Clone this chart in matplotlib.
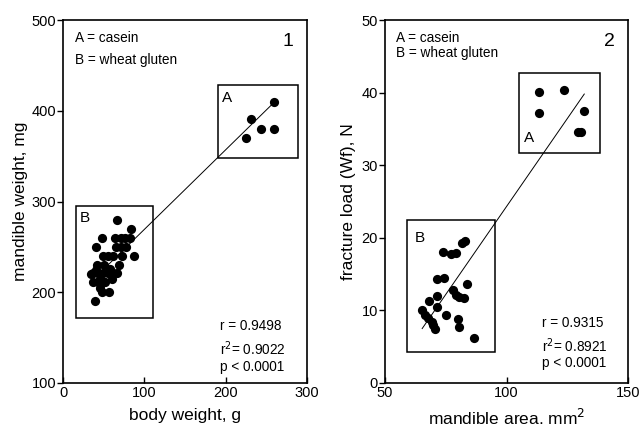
import matplotlib
matplotlib.use("Agg")
import matplotlib.pyplot as plt
from matplotlib.patches import Rectangle

plt.rcParams['font.family'] = ['Liberation Sans', 'DejaVu Sans']

# Panel 1: body weight (g) vs mandible weight (mg)
p1_casein_x = [259, 231, 243, 259, 225]
p1_casein_y = [410, 391, 380, 380, 370]
p1_gluten_x = [67, 83, 48, 64, 71, 82, 41, 65, 71, 78, 49, 55, 72, 87,
               42, 50, 69, 37, 43, 49, 55, 61, 66, 37, 43, 52, 48, 57, 39,
               45, 60, 40, 46, 34, 58, 62, 76]
p1_gluten_y = [280, 270, 260, 260, 260, 260, 250, 250, 250, 250, 240, 240, 240, 240,
               230, 230, 230, 221, 221, 221, 221, 221, 221, 211, 211, 211, 200, 200, 190,
               215, 215, 225, 205, 220, 226, 240, 260]
p1_fit_x = [49, 257]
p1_fit_y = [224.5, 407]

# Panel 2: mandible area (mm2) vs fracture load (N)
p2_casein_x = [113.3, 123.8, 113.3, 132.0, 129.5, 130.8]
p2_casein_y = [40.1, 40.4, 37.2, 37.5, 34.6, 34.6]
p2_gluten_x = [83.0, 81.5, 73.9, 77.2, 79.2, 71.6, 74.3, 83.9, 77.9, 79.2, 80.6, 82.5,
               68.2, 71.2, 71.2, 65.3, 66.6, 67.9, 69.2, 69.9, 70.6, 75.2, 79.9, 80.5, 86.8]
p2_gluten_y = [19.5, 19.3, 18.1, 17.8, 17.9, 14.3, 14.4, 13.7, 12.8, 12.1, 11.8, 11.7,
               11.3, 12.0, 10.5, 10.05, 9.4, 8.9, 8.4, 8.0, 7.5, 9.4, 8.8, 7.7, 6.2]
p2_fit_x = [65.3, 132.0]
p2_fit_y = [7.5, 39.8]

fig = plt.figure(figsize=(6.41, 4.30), dpi=100)
W, H = 641, 430

def add_ax(x0, x1, y0, y1):
    return fig.add_axes([x0 / W, 1 - y1 / H, (x1 - x0) / W, (y1 - y0) / H])

ax1 = add_ax(63, 307, 20, 383)
ax2 = add_ax(385, 628, 20, 383)

ms = 44
tfs = 10.5   # tick labels
afs = 9.8    # annotation text
lfs = 12.5   # axis labels
for ax in (ax1, ax2):
    for s in ax.spines.values():
        s.set_linewidth(1.2)
    ax.tick_params(axis='y', direction='out', length=4, width=1, labelsize=tfs, pad=1)
    ax.tick_params(axis='x', direction='in', length=4, width=1, labelsize=tfs, pad=2)

# Panel 1
ax1.scatter(p1_casein_x, p1_casein_y, s=ms, color='black', zorder=3, linewidths=0)
ax1.scatter(p1_gluten_x, p1_gluten_y, s=ms, color='black', zorder=3, linewidths=0)
ax1.plot(p1_fit_x, p1_fit_y, color='black', lw=0.7)
ax1.add_patch(Rectangle((190, 348), 99, 80, fill=False, lw=1.1, ec='black'))
ax1.add_patch(Rectangle((16, 172), 95, 123, fill=False, lw=1.1, ec='black'))
ax1.text(196, 414, 'A', fontsize=11, ha='left', va='center')
ax1.text(21, 282, 'B', fontsize=11, ha='left', va='center')
ax1.set_xlim(0, 300)
ax1.set_ylim(100, 500)
ax1.set_xticks([0, 100, 200, 300])
ax1.set_yticks([100, 200, 300, 400, 500])
ax1.set_xlabel('body weight, g', fontsize=lfs)
ax1.set_ylabel('mandible weight, mg', fontsize=lfs)
ax1.xaxis.set_label_coords(0.5, -0.069)
ax1.yaxis.set_label_coords(-0.145, 0.5)
ax1.text(0.05, 0.950, 'A = casein', transform=ax1.transAxes, fontsize=afs, va='center')
ax1.text(0.05, 0.890, 'B = wheat gluten', transform=ax1.transAxes, fontsize=afs, va='center')
ax1.text(0.945, 0.940, '1', transform=ax1.transAxes, fontsize=14, ha='right', va='center')
ax1.text(0.645, 0.157, 'r = 0.9498', transform=ax1.transAxes, fontsize=afs, va='center')
ax1.text(0.645, 0.094, 'r$^2$= 0.9022', transform=ax1.transAxes, fontsize=afs, va='center')
ax1.text(0.645, 0.044, 'p < 0.0001', transform=ax1.transAxes, fontsize=afs, va='center')

# Panel 2
ax2.scatter(p2_casein_x, p2_casein_y, s=ms, color='black', zorder=3, linewidths=0)
ax2.scatter(p2_gluten_x, p2_gluten_y, s=ms, color='black', zorder=3, linewidths=0)
ax2.plot(p2_fit_x, p2_fit_y, color='black', lw=0.7)
ax2.add_patch(Rectangle((105.3, 31.7), 33, 11, fill=False, lw=1.1, ec='black'))
ax2.add_patch(Rectangle((59, 4.3), 36.2, 18.2, fill=False, lw=1.1, ec='black'))
ax2.text(107, 33.7, 'A', fontsize=11, ha='left', va='center')
ax2.text(62.2, 20.0, 'B', fontsize=11, ha='left', va='center')
ax2.set_xlim(50, 150)
ax2.set_ylim(0, 50)
ax2.set_xticks([50, 100, 150])
ax2.set_yticks([0, 10, 20, 30, 40, 50])
ax2.set_xlabel('mandible area. mm$^2$', fontsize=lfs)
ax2.set_ylabel('fracture load (Wf), N', fontsize=lfs)
ax2.xaxis.set_label_coords(0.5, -0.069)
ax2.yaxis.set_label_coords(-0.12, 0.5)
ax2.text(0.045, 0.950, 'A = casein', transform=ax2.transAxes, fontsize=afs, va='center')
ax2.text(0.045, 0.909, 'B = wheat gluten', transform=ax2.transAxes, fontsize=afs, va='center')
ax2.text(0.945, 0.940, '2', transform=ax2.transAxes, fontsize=14, ha='right', va='center')
ax2.text(0.645, 0.165, 'r = 0.9315', transform=ax2.transAxes, fontsize=afs, va='center')
ax2.text(0.645, 0.102, 'r$^2$= 0.8921', transform=ax2.transAxes, fontsize=afs, va='center')
ax2.text(0.645, 0.055, 'p < 0.0001', transform=ax2.transAxes, fontsize=afs, va='center')

fig.savefig('out.png', dpi=100)
